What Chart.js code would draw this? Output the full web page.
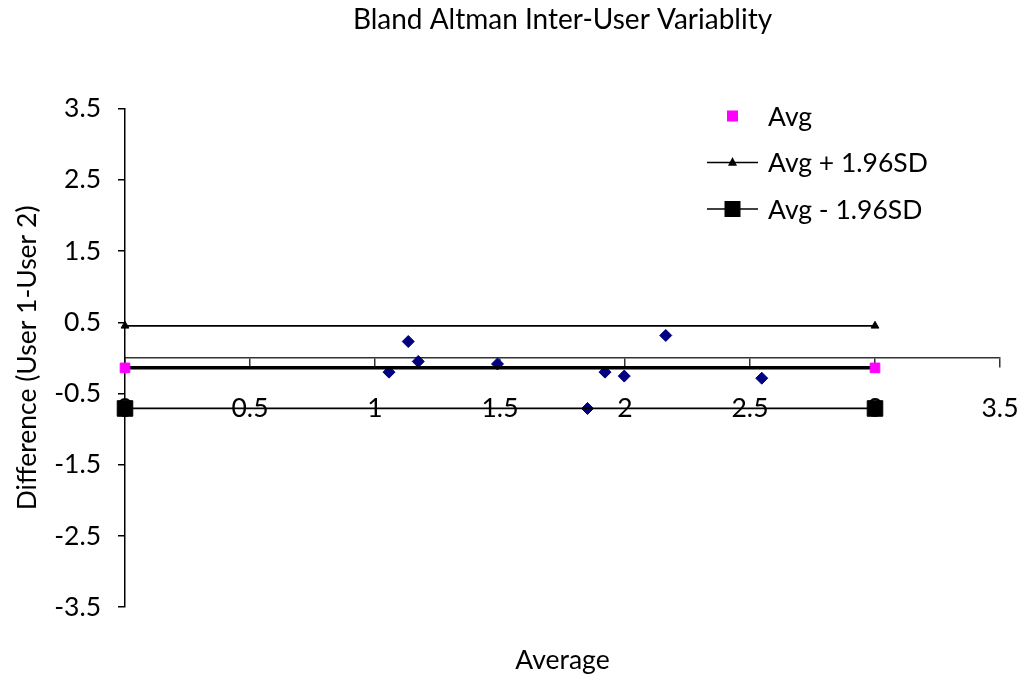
<!DOCTYPE html>
<html>
<head>
<meta charset="utf-8">
<title>Bland Altman Inter-User Variablity</title>
<script src="https://cdn.jsdelivr.net/npm/chart.js"></script>
<style>
  html, body { margin: 0; padding: 0; background: #fff; overflow: hidden; }
  #wrap { width: 1025px; height: 681px; position: relative; }
</style>
</head>
<body>
<div id="wrap"><canvas id="baChart"></canvas></div>
<script>
// mean of the two users (x) and their difference (y)
const avgValues  = [1.056, 1.133, 1.173, 1.49, 1.85, 1.92, 1.997, 2.163, 2.547];
const diffValues = [-0.20, 0.23, -0.05, -0.085, -0.71, -0.20, -0.255, 0.315, -0.285];

// reference lines, drawn from x = 0 to x = 3
const lineEnds  = [0, 3];
const meanDiff  = -0.14;
const upperLoA  = 0.45;
const lowerLoA  = -0.71;

const xTicks = [0, 0.5, 1, 1.5, 2, 2.5, 3, 3.5];
const yTicks = [-3.5, -2.5, -1.5, -0.5, 0.5, 1.5, 2.5, 3.5];

const FONT = 'Lato, "Open Sans", sans-serif';
const TXT = 26.5;

function flat(v) {
  return lineEnds.map(x => ({ x: x, y: v }));
}

// simple key drawn inside the plot, top right
const keyPlugin = {
  id: 'keyBox',
  afterDraw(chart, args, opts) {
    const ctx = chart.ctx;
    ctx.save();
    ctx.font = opts.size + 'px ' + FONT;
    ctx.textBaseline = 'middle';
    chart.data.datasets.forEach((ds, i) => {
      if (!ds.key) return;
      const y = opts.top + i * opts.gap;
      const cx = opts.left + opts.lineLen / 2;
      ctx.fillStyle = ds.key.color;
      ctx.strokeStyle = '#000';
      if (ds.key.line) {
        ctx.lineWidth = 1.7;
        ctx.beginPath();
        ctx.moveTo(opts.left, y);
        ctx.lineTo(opts.left + opts.lineLen, y);
        ctx.stroke();
      }
      const s = ds.key.size;
      if (ds.key.mark === 'rect') {
        ctx.fillRect(cx - s / 2, y - s / 2, s, s);
      } else if (ds.key.mark === 'triangle') {
        ctx.beginPath();
        ctx.moveTo(cx, y - s * 0.6);
        ctx.lineTo(cx + s / 2, y + s * 0.35);
        ctx.lineTo(cx - s / 2, y + s * 0.35);
        ctx.closePath();
        ctx.fill();
      }
      ctx.fillStyle = '#000';
      ctx.fillText(ds.label, opts.textX, y + 1);
    });
    ctx.restore();
  }
};

new Chart(document.getElementById('baChart'), {
  type: 'scatter',
  data: {
    datasets: [
      {
        label: 'Avg',
        data: flat(meanDiff),
        showLine: true,
        borderColor: '#000',
        borderWidth: 3.5,
        pointStyle: 'rect',
        pointRadius: 6.8,
        pointBackgroundColor: '#FF00FF',
        pointBorderColor: '#FF00FF',
        pointBorderWidth: 1,
        clip: false,
        key: { mark: 'rect', size: 11, color: '#FF00FF', line: false }
      },
      {
        label: 'Avg + 1.96SD',
        data: flat(upperLoA),
        showLine: true,
        borderColor: '#000',
        borderWidth: 1.7,
        pointStyle: 'triangle',
        pointRadius: 4.5,
        pointBackgroundColor: '#000',
        pointBorderColor: '#000',
        pointBorderWidth: 1,
        clip: false,
        key: { mark: 'triangle', size: 9, color: '#000', line: true }
      },
      {
        label: 'Avg - 1.96SD',
        data: flat(lowerLoA),
        showLine: true,
        borderColor: '#000',
        borderWidth: 1.7,
        pointStyle: 'rect',
        pointRadius: 11,
        pointBackgroundColor: '#000',
        pointBorderColor: '#000',
        pointBorderWidth: 1,
        clip: false,
        key: { mark: 'rect', size: 16, color: '#000', line: true }
      },
      {
        label: '',
        data: avgValues.map((x, i) => ({ x: x, y: diffValues[i] })),
        showLine: false,
        pointStyle: 'rectRot',
        pointRadius: 6,
        pointBackgroundColor: '#000080',
        pointBorderColor: '#000080',
        pointBorderWidth: 1,
        clip: false
      }
    ]
  },
  options: {
    responsive: true,
    maintainAspectRatio: false,
    animation: false,
    layout: { autoPadding: false, padding: { left: 0, right: 25, top: 0, bottom: 0 } },
    plugins: {
      legend: { display: false },
      tooltip: { enabled: false },
      title: {
        display: true,
        text: 'Bland Altman Inter-User Variablity',
        color: '#000',
        fullSize: false,
        font: { family: FONT, size: 28, weight: 'normal' },
        padding: { top: 3, bottom: 72 }
      },
      keyBox: { left: 707, lineLen: 51, textX: 768, top: 116, gap: 46.5, size: TXT }
    },
    scales: {
      x: {
        type: 'linear',
        min: 0,
        max: 3.5,
        position: { y: 0 },
        afterBuildTicks: s => { s.ticks = xTicks.map(v => ({ value: v })); },
        // the end labels may hang past the plot edges
        afterFit: s => { s.paddingLeft = 0; s.paddingRight = 0; },
        ticks: { color: '#000', font: { family: FONT, size: TXT }, padding: 26, maxRotation: 0, callback: v => String(v) },
        grid: { drawOnChartArea: false, tickLength: 9, color: '#333', lineWidth: 1.5 },
        border: { color: '#333', width: 1.5 }
      },
      xTitle: {
        type: 'linear',
        min: 0,
        max: 3.5,
        position: 'bottom',
        ticks: { display: false },
        grid: { display: false, drawTicks: false },
        border: { display: false },
        title: {
          display: true,
          text: 'Average',
          color: '#000',
          font: { family: FONT, size: TXT },
          padding: { top: 37, bottom: 5 }
        }
      },
      y: {
        type: 'linear',
        min: -3.5,
        max: 3.5,
        position: 'left',
        afterBuildTicks: s => { s.ticks = yTicks.map(v => ({ value: v })); },
        afterFit: s => { s.width = 125; },
        ticks: { color: '#000', font: { family: FONT, size: TXT }, padding: 17, callback: v => String(v) },
        grid: { drawOnChartArea: false, tickLength: 7, color: '#000', lineWidth: 1.5 },
        border: { color: '#000', width: 1.5 },
        title: {
          display: true,
          text: 'Difference (User 1-User 2)',
          color: '#000',
          font: { family: FONT, size: TXT },
          padding: { top: 12, bottom: 0 }
        }
      }
    }
  },
  plugins: [keyPlugin]
});
</script>
</body>
</html>
